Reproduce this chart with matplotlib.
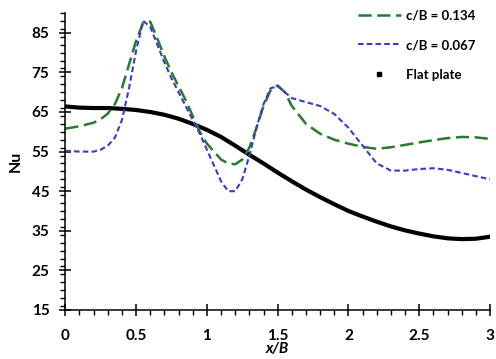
import matplotlib.pyplot as plt
from matplotlib.lines import Line2D
from matplotlib.ticker import MultipleLocator

plt.rcParams['font.family'] = ['Lato', 'DejaVu Sans']
plt.rcParams['lines.scale_dashes'] = False

# c/B = 0.134
x_134 = [0, 0.1, 0.2, 0.25, 0.3, 0.35, 0.4, 0.45, 0.5, 0.55, 0.6, 0.65, 0.7, 0.75,
         0.8, 0.85, 0.9, 0.95, 1.0, 1.05, 1.1, 1.15, 1.2, 1.25, 1.3, 1.35, 1.4, 1.45,
         1.5, 1.55, 1.6, 1.7, 1.8, 1.9, 2.0, 2.1, 2.2, 2.3, 2.4, 2.5, 2.6, 2.7, 2.8,
         2.9, 3.0]
nu_134 = [60.8, 61.4, 62.3, 63.2, 64.6, 67, 71, 77, 83, 87.6, 87.8, 83.5, 79, 75,
          71.5, 68, 64, 60, 57, 55, 53, 52, 51.8, 53, 56, 61, 66.5, 70.5,
          71.7, 70, 66.5, 62, 59.5, 58, 57, 56.2, 55.7, 56.1, 56.7, 57.3, 57.9, 58.4, 58.7,
          58.6, 58.2]

# c/B = 0.067
x_067 = [0, 0.1, 0.2, 0.25, 0.3, 0.35, 0.4, 0.45, 0.5, 0.55, 0.6, 0.65, 0.7, 0.75,
         0.8, 0.85, 0.9, 0.95, 1.0, 1.05, 1.1, 1.15, 1.2, 1.25, 1.3, 1.35, 1.4, 1.45,
         1.5, 1.55, 1.6, 1.7, 1.8, 1.9, 2.0, 2.1, 2.2, 2.3, 2.4, 2.5, 2.6, 2.7, 2.8,
         2.9, 3.0]
nu_067 = [55.2, 55, 55, 55.5, 56.5, 58.5, 63, 71, 80.5, 88, 86.5, 82, 77.5, 73.5,
          70, 66.5, 63, 59.5, 55.5, 51.5, 47.5, 45, 45, 48, 54, 61, 67, 71,
          71.5, 70, 68.5, 67.5, 66.5, 64.5, 61, 56.5, 52, 50.2, 50.2, 50.6, 50.8, 50.4, 49.6,
          48.8, 48]

# flat plate
x_flat = [0, 0.1, 0.2, 0.3, 0.4, 0.5, 0.6, 0.7, 0.8, 0.9, 1.0, 1.1, 1.2, 1.3, 1.4,
          1.5, 1.6, 1.7, 1.8, 1.9, 2.0, 2.1, 2.2, 2.3, 2.4, 2.5, 2.6, 2.7, 2.8, 2.9, 3.0]
nu_flat = [66.4, 66.1, 66, 66, 65.8, 65.5, 65, 64.3, 63.3, 62, 60.5, 58.7, 56.5, 54.2, 52,
           49.7, 47.5, 45.4, 43.5, 41.7, 40, 38.6, 37.3, 36.1, 35.1, 34.3, 33.6, 33.1, 32.9, 33, 33.5]

labels = ['c/B = 0.134', 'c/B = 0.067', 'Flat plate']

green = '#2b7a2b'
blue = '#3a3acc'

fig = plt.figure(figsize=(4.96, 3.59), dpi=100)
ax = fig.add_axes([0.1317, 0.1365, 0.8563, 0.8273])

ax.plot(x_flat, nu_flat, color='black', lw=3.0, solid_capstyle='round')
ax.plot(x_134, nu_134, color=green, lw=1.8, dashes=(9.5, 4))
ax.plot(x_067, nu_067, color=blue, lw=1.5, dashes=(4, 2.3))

ax.set_xlim(0, 3)
ax.set_ylim(15, 90)
ax.xaxis.set_minor_locator(MultipleLocator(0.1))
ax.yaxis.set_minor_locator(MultipleLocator(2))
ax.set_xticks([0, 0.5, 1, 1.5, 2, 2.5, 3])
ax.set_xticklabels(['0', '0.5', '1', '1.5', '2', '2.5', '3'])
ax.set_yticks([15, 25, 35, 45, 55, 65, 75, 85])

for s in ['top', 'right']:
    ax.spines[s].set_visible(False)
for s in ['left', 'bottom']:
    ax.spines[s].set_linewidth(1.1)

ax.tick_params(which='major', direction='inout', length=8, width=1.1, labelsize=11)
ax.tick_params(axis='x', which='major', pad=10)
ax.tick_params(axis='y', which='major', pad=7.5)
ax.tick_params(which='minor', direction='out', length=3.5, width=1.0)
for lab in ax.get_xticklabels() + ax.get_yticklabels():
    lab.set_fontweight('bold')

ax.set_ylabel('Nu', fontsize=11.5, fontweight='bold')
ax.yaxis.set_label_coords(-0.10, 0.5)
ax.set_xlabel('x/B', fontsize=11, fontweight='bold', style='italic')
ax.xaxis.set_label_coords(0.5, -0.108)

handles = [
    Line2D([], [], color=green, lw=1.8, dashes=(9.5, 4)),
    Line2D([], [], color=blue, lw=1.5, dashes=(4, 2.3)),
    Line2D([], [], color='black', marker='s', markersize=3.5, linestyle='none'),
]
fig.legend(handles, labels, loc='upper right', bbox_to_anchor=(0.978, 1.0),
           frameon=False, handlelength=3.3, handletextpad=0.4,
           labelspacing=1.35, borderaxespad=0.3,
           prop={'weight': 'bold', 'size': 9.5})

fig.savefig('out.png', dpi=100)
